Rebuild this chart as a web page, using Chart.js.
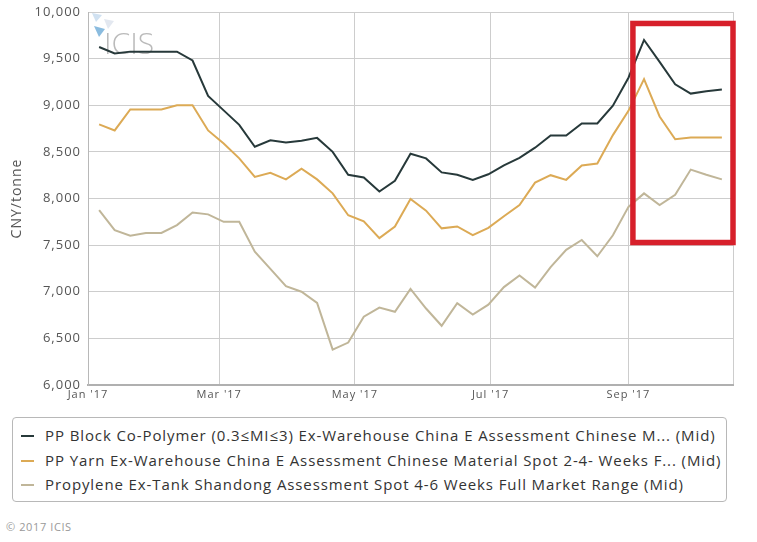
<!DOCTYPE html>
<html>
<head>
<meta charset="utf-8">
<script src="https://cdn.jsdelivr.net/npm/chart.js@4.4.1/dist/chart.umd.min.js"></script>
<style>
body { margin: 0; background: #fff; font-family: "Open Sans", sans-serif; }
#wrap { position: relative; width: 757px; height: 542px; overflow: hidden; }
#chartBox { position: absolute; left: 0; top: 0; width: 757px; height: 410px; }
#legend { position: absolute; left: 12px; top: 417px; width: 715px; height: 85px; border: 1px solid #b8b8b8; border-radius: 4px; box-sizing: border-box; padding-top: 5px; }
.leg-row { position: relative; height: 24.5px; line-height: 24px; font-size: 15px; letter-spacing: 0.9px; color: #333; white-space: nowrap; padding-left: 32px; }
.leg-row .sw { position: absolute; left: 8px; top: 12px; width: 13px; height: 2px; }
#copy { position: absolute; left: 6px; top: 519px; font-size: 11px; letter-spacing: 0.6px; color: #999; }
</style>
</head>
<body>
<div id="wrap">
  <div id="chartBox"><canvas id="chart"></canvas></div>
  <div id="legend"></div>
  <div id="copy">© 2017 ICIS</div>
</div>
<script>
// weekly assessment dates
const dates = [
  '2017-01-06', '2017-01-13', '2017-01-20', '2017-01-27', '2017-02-03', '2017-02-10', '2017-02-17',
  '2017-02-24', '2017-03-03', '2017-03-10', '2017-03-17', '2017-03-24', '2017-03-31', '2017-04-07',
  '2017-04-14', '2017-04-21', '2017-04-28', '2017-05-05', '2017-05-12', '2017-05-19', '2017-05-26',
  '2017-06-02', '2017-06-09', '2017-06-16', '2017-06-23', '2017-06-30', '2017-07-07', '2017-07-14',
  '2017-07-21', '2017-07-28', '2017-08-04', '2017-08-11', '2017-08-18', '2017-08-25', '2017-09-01',
  '2017-09-08', '2017-09-15', '2017-09-22', '2017-09-29', '2017-10-06', '2017-10-13'
];

// CNY/tonne
const ppBlock = [
  9625, 9555, 9575, 9575, 9575, 9575, 9480, 9100, 8945, 8790, 8555, 8625, 8600, 8620,
  8650, 8500, 8255, 8225, 8075, 8190, 8480, 8430, 8280, 8255, 8200, 8260, 8355, 8435,
  8545, 8675, 8675, 8805, 8805, 8995, 9295, 9700, 9465, 9225, 9125, 9150, 9170
];
const ppYarn = [
  8795, 8730, 8955, 8955, 8955, 9000, 9000, 8730, 8590, 8430, 8232, 8275, 8205, 8320,
  8205, 8055, 7820, 7755, 7575, 7700, 7995, 7870, 7680, 7700, 7607, 7685, 7810, 7930,
  8170, 8250, 8200, 8355, 8375, 8680, 8940, 9280, 8880, 8635, 8655, 8655, 8655
];
const propylene = [
  7875, 7660, 7600, 7630, 7630, 7715, 7850, 7830, 7750, 7750, 7430, 7245, 7060, 7000,
  6880, 6380, 6455, 6732, 6830, 6785, 7030, 6820, 6635, 6877, 6755, 6862, 7050, 7175,
  7045, 7265, 7450, 7555, 7380, 7605, 7910, 8055, 7930, 8040, 8310, 8255, 8205
];

const seriesNames = [
  'PP Block Co-Polymer (0.3\u2264MI\u22643) Ex-Warehouse China E Assessment Chinese M... (Mid)',
  'PP Yarn Ex-Warehouse China E Assessment Chinese Material Spot 2-4- Weeks F... (Mid)',
  'Propylene Ex-Tank Shandong Assessment Spot 4-6 Weeks Full Market Range (Mid)'
];
const seriesColors = ['#27393a', '#dcaa55', '#c0b699'];

// x axis: days since 1 Jan 2017
const tickDates = ['2017-01-01', '2017-03-01', '2017-05-01', '2017-07-01', '2017-09-01'];
const tickLabels = ["Jan '17", "Mar '17", "May '17", "Jul '17", "Sep '17"];
const xEnd = '2017-10-18';

// highlighted zone (red frame)
const boxDates = ['2017-09-03', '2017-10-18'];
const boxValues = [9877, 7528];

function dayOf(d) {
  return (Date.parse(d) - Date.parse('2017-01-01')) / 86400000;
}

const tickDays = tickDates.map(dayOf);
const xMax = dayOf(xEnd);

function toPoints(values) {
  return values.map((v, i) => ({ x: dayOf(dates[i]), y: v }));
}

// Légende HTML
const legend = document.getElementById('legend');
seriesNames.forEach((name, i) => {
  legend.innerHTML += `<div class="leg-row"><span class="sw" style="background:${seriesColors[i]}"></span>${name}</div>`;
});

const decoPlugin = {
  id: 'deco',
  beforeDraw(chart) {
    // texte un peu espacé comme l'original
    chart.ctx.letterSpacing = '1px';
  },
  beforeDatasetsDraw(chart) {
    // filigrane ICIS
    const { ctx, chartArea } = chart;
    ctx.save();
    ctx.fillStyle = 'rgba(120,170,215,0.35)';
    ctx.beginPath();
    ctx.moveTo(chartArea.left + 4, chartArea.top + 1);
    ctx.lineTo(chartArea.left + 14, chartArea.top + 3);
    ctx.lineTo(chartArea.left + 8, chartArea.top + 10);
    ctx.fill();
    ctx.fillStyle = 'rgba(200,210,225,0.5)';
    ctx.beginPath();
    ctx.moveTo(chartArea.left + 16, chartArea.top + 7);
    ctx.lineTo(chartArea.left + 26, chartArea.top + 9);
    ctx.lineTo(chartArea.left + 20, chartArea.top + 17);
    ctx.fill();
    ctx.fillStyle = 'rgba(90,160,210,0.7)';
    ctx.beginPath();
    ctx.moveTo(chartArea.left + 6, chartArea.top + 14);
    ctx.lineTo(chartArea.left + 17, chartArea.top + 17);
    ctx.lineTo(chartArea.left + 11, chartArea.top + 25);
    ctx.fill();
    ctx.fillStyle = 'rgba(140,140,140,0.6)';
    ctx.font = '300 30px "Open Sans"';
    ctx.letterSpacing = '0px';
    ctx.textBaseline = 'alphabetic';
    ctx.fillText('ICIS', chartArea.left + 16, chartArea.top + 42);
    ctx.restore();
  },
  afterDraw(chart) {
    // cadre rouge
    const { ctx, scales } = chart;
    const x1 = scales.x.getPixelForValue(dayOf(boxDates[0]));
    const x2 = scales.x.getPixelForValue(dayOf(boxDates[1]));
    const y1 = scales.y.getPixelForValue(boxValues[0]);
    const y2 = scales.y.getPixelForValue(boxValues[1]);
    ctx.save();
    ctx.strokeStyle = '#d7202b';
    ctx.lineWidth = 5.5;
    ctx.strokeRect(x1, y1, x2 - x1, y2 - y1);
    ctx.restore();
  }
};

const ctx = document.getElementById('chart').getContext('2d');
new Chart(ctx, {
  type: 'line',
  data: {
    datasets: [ppBlock, ppYarn, propylene].map((vals, i) => ({
      label: seriesNames[i],
      data: toPoints(vals),
      borderColor: seriesColors[i],
      borderWidth: 2,
      pointRadius: 0,
      tension: 0,
      fill: false
    }))
  },
  options: {
    responsive: true,
    maintainAspectRatio: false,
    animation: false,
    layout: { padding: { left: 0, right: 24, top: 12, bottom: 0 } },
    plugins: {
      legend: { display: false },
      tooltip: { enabled: false }
    },
    scales: {
      x: {
        type: 'linear',
        min: 0,
        max: xMax,
        afterBuildTicks: s => {
          s.ticks = tickDays.concat([xMax]).map(v => ({ value: v }));
        },
        afterFit: s => { s.height = 25; },
        ticks: {
          autoSkip: false,
          maxRotation: 0,
          padding: 3,
          color: '#555',
          font: { family: 'Open Sans', size: 11 },
          callback: v => {
            const k = tickDays.indexOf(v);
            return k >= 0 ? tickLabels[k] : '';
          }
        },
        grid: { color: '#cdcdcd', lineWidth: 1, drawTicks: false },
        border: { color: '#b0b0b0', width: 2 }
      },
      y: {
        min: 6000,
        max: 10000,
        afterFit: s => { s.width = 88; s.paddingTop = 0; s.paddingBottom = 0; },
        ticks: {
          stepSize: 500,
          padding: 7,
          color: '#555',
          font: { family: 'Open Sans', size: 13 },
          callback: v => v.toLocaleString('en-US')
        },
        title: {
          display: true,
          text: 'CNY/tonne',
          color: '#555',
          padding: { top: 9 },
          font: { family: 'Open Sans', size: 14 }
        },
        grid: { color: '#cdcdcd', lineWidth: 1, drawTicks: false },
        border: { color: '#b8b8b8', width: 1 }
      }
    }
  },
  plugins: [decoPlugin]
});
</script>
</body>
</html>
